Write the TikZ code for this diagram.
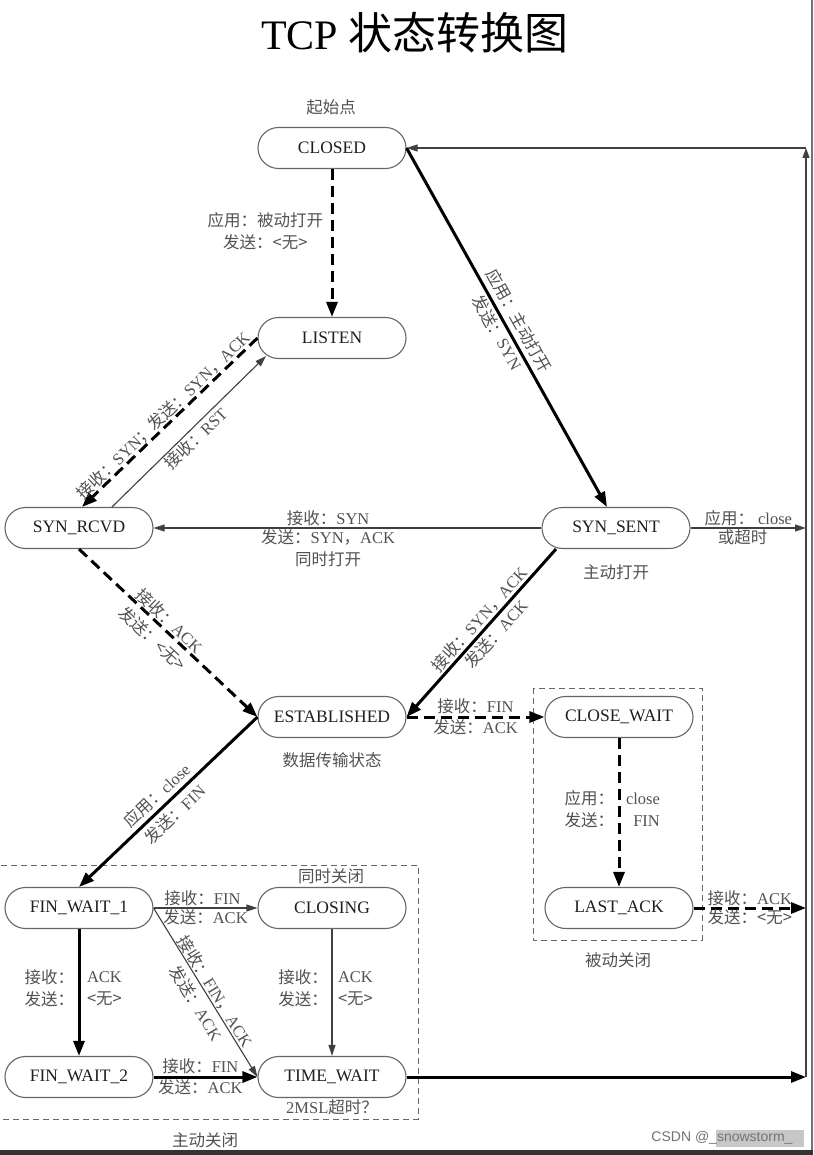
\documentclass[tikz,border=0pt]{standalone}
\usepackage{fontspec}
\setmainfont{Liberation Serif}
\newfontfamily\cjk{Noto Sans CJK SC}
\newfontfamily\wmfont{Liberation Sans}
\usetikzlibrary{shapes.misc,arrows.meta}
\newcommand\zh[1]{{\cjk #1}}
\begin{document}
\begin{tikzpicture}[x=1pt,y=-1pt,
  st/.style={rounded rectangle, draw=black!60, line width=1.1pt, minimum width=148pt, minimum height=41pt, inner sep=0pt, font=\fontsize{17.5}{20}\selectfont, text=black!88},
  lbl/.style={font=\fontsize{16.5}{22}\selectfont, text=black!68, inner sep=1.5pt},
  boldedge/.style={draw=black, line width=3pt, -{Triangle[length=15pt,width=11pt]}},
  thinedge/.style={draw=black!75, line width=1.1pt, -{Triangle[length=11pt,width=7pt]}},
  dashedge/.style={boldedge, dash pattern=on 11pt off 6pt},
  region/.style={draw=black!60, line width=1pt, dash pattern=on 6pt off 4pt},
]
\useasboundingbox (0,0) rectangle (813,1155);
\fill[white] (0,0) rectangle (813,1155);

% title
\node (title) at (415,33) {\fontsize{42}{46}\selectfont TCP {\cjk\fontsize{44}{46}\selectfont 状态转换图}};

% regions
\draw[region] (533,688) rectangle (702,940);
\draw[region] (-3,865) rectangle (418,1119);

% states
\node[st] (closed) at (332,148) {CLOSED};
\node[st] (listen) at (332,338) {LISTEN};
\node[st] (synrcvd) at (79,528) {SYN\_RCVD};
\node[st] (synsent) at (616,528) {SYN\_SENT};
\node[st] (estab) at (332,717) {ESTABLISHED};
\node[st] (closewait) at (619,717) {CLOSE\_WAIT};
\node[st] (lastack) at (619,908) {LAST\_ACK};
\node[st] (fw1) at (79,908) {FIN\_WAIT\_1};
\node[st] (closing) at (332,908) {CLOSING};
\node[st] (fw2) at (79,1077) {FIN\_WAIT\_2};
\node[st] (timewait) at (332,1077) {TIME\_WAIT};

\coordinate (synsentR) at (806,528);
\coordinate (lastackR) at (806,908);
\coordinate (twR) at (806,1077);
\coordinate (topR) at (806,148);

% free texts
\node[lbl] (start) at (331,107) {\zh{起始点}};
\node[lbl] (activeopen) at (616,572) {\zh{主动打开}};
\node[lbl] (datatx) at (332,760) {\zh{数据传输状态}};
\node[lbl] (passiveclose) at (618,960) {\zh{被动关闭}};
\node[lbl] (simclose) at (331,876) {\zh{同时关闭}};
\node[lbl] (msl) at (332,1107) {2MSL\zh{超时？}};
\node[lbl] (activeclose) at (205,1140) {\zh{主动关闭}};

% edges
\draw[dashedge] (closed.south) -- (listen.north)
  node[lbl, pos=0.42, left=6pt, align=center] {\zh{应用：被动打开}\\\zh{发送：<无>}};
\draw[boldedge] (closed.east) -- ([xshift=-9pt]synsent.north)
  node[lbl, sloped, pos=0.5, above=3pt] {\zh{应用：主动打开}}
  node[lbl, sloped, pos=0.5, below=0pt] {\zh{发送：}SYN};
\draw[dashedge] (listen.west) -- ([xshift=3pt]synrcvd.north)
  node[lbl, sloped, pos=0.5, above=-2pt] {\zh{接收：}SYN\zh{；发送：}SYN\zh{，}ACK};
\draw[thinedge] ([xshift=33pt]synrcvd.north) -- ([xshift=-66pt,yshift=3pt]listen.south)
  node[lbl, sloped, pos=0.5, below=0pt] {\zh{接收：}RST};
\draw[thinedge] (synsent.west) -- (synrcvd.east)
  node[lbl, pos=0.55, above=0pt] {\zh{接收：}SYN}
  node[lbl, pos=0.55, below=0pt, align=center] {\zh{发送：}SYN\zh{，}ACK\\\zh{同时打开}};
\draw[thinedge] (synsent.east) -- (synsentR)
  node[lbl, pos=0.5, above=0pt] {\zh{应用：} close}
  node[lbl, pos=0.45, below=0pt] {\zh{或超时}};
\draw[dashedge] (synrcvd.south) -- (estab.west)
  node[lbl, sloped, pos=0.47, above=-1pt] {\zh{接收：}ACK}
  node[lbl, sloped, pos=0.47, below=4pt] {\zh{发送：<无>}};
\draw[boldedge] ([xshift=-60pt]synsent.south) -- (estab.east)
  node[lbl, sloped, pos=0.46, above=0pt] {\zh{接收：}SYN\zh{，}ACK}
  node[lbl, sloped, pos=0.46, below=1pt] {\zh{发送：}ACK};
\draw[dashedge] (estab.east) -- (closewait.west)
  node[lbl, pos=0.5, above=0pt] {\zh{接收：}FIN}
  node[lbl, pos=0.5, below=0pt] {\zh{发送：}ACK};
\draw[dashedge] (closewait.south) -- (lastack.north)
  node[lbl, pos=0.48, left=2pt, align=left] {\zh{应用：}\\\zh{发送：}}
  node[lbl, pos=0.48, right=4pt, align=right] {close\\FIN};
\draw[dashedge] (lastack.east) -- (lastackR)
  node[lbl, pos=0.5, above=-1pt] {\zh{接收：}ACK}
  node[lbl, pos=0.5, below=-1pt] {\zh{发送：<无>}};
\draw[boldedge] (estab.west) -- (fw1.north)
  node[lbl, sloped, pos=0.515, above=2pt] {\zh{应用：}close}
  node[lbl, sloped, pos=0.515, below=3pt] {\zh{发送：}FIN};
\draw[thinedge] (fw1.east) -- (closing.west)
  node[lbl, pos=0.47, above=0pt] {\zh{接收：}FIN}
  node[lbl, pos=0.5, below=0pt] {\zh{发送：}ACK};
\draw[thinedge] (fw1.east) -- (timewait.west)
  node[lbl, sloped, pos=0.52, above=-1pt] {\zh{接收：}FIN\zh{，}ACK}
  node[lbl, sloped, pos=0.52, below=4pt] {\zh{发送：}ACK};
\draw[thinedge] (closing.south) -- (timewait.north)
  node[lbl, pos=0.47, left=2pt, align=left] {\zh{接收：}\\\zh{发送：}}
  node[lbl, pos=0.47, right=4pt, align=left] {ACK\\\zh{<无>}};
\draw[boldedge] (fw1.south) -- (fw2.north)
  node[lbl, pos=0.47, left=2pt, align=left] {\zh{接收：}\\\zh{发送：}}
  node[lbl, pos=0.47, right=5pt, align=left] {ACK\\\zh{<无>}};
\draw[boldedge] (fw2.east) -- (timewait.west)
  node[lbl, pos=0.45, above=0pt] {\zh{接收：}FIN}
  node[lbl, pos=0.45, below=0pt] {\zh{发送：}ACK};
\draw[boldedge] (timewait.east) -- (twR);
\draw[thinedge, -{Triangle[length=10pt,width=7pt]}] (twR) -- (topR);
\draw[thinedge] (topR) -- (closed.east);

% screenshot frame and watermark
\draw[black!55, line width=1.5pt] (812,0) -- (812,1150);
\fill[black!80] (0,1150) rectangle (813,1155);
\fill[black!22] (716,1130) rectangle (804,1147);
\node[font=\wmfont\fontsize{14}{16}\selectfont, text=black!55] (wm) at (722,1138) {CSDN @\_snowstorm\_};
\end{tikzpicture}
\end{document}
